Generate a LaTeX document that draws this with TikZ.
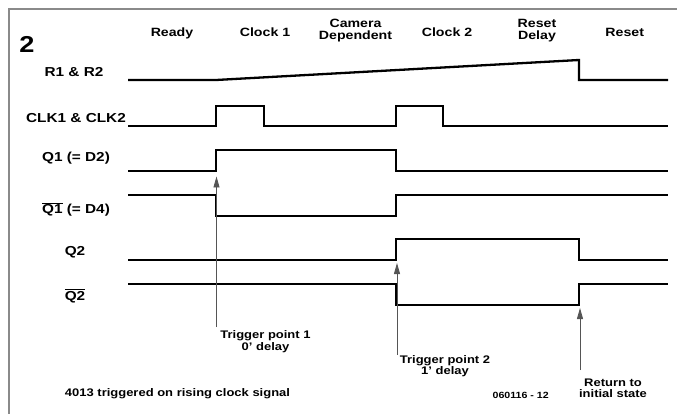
\documentclass[tikz,border=0pt]{standalone}
\usepackage{fontspec}
\setmainfont{Liberation Sans}[FakeStretch=1.18]
\usetikzlibrary{arrows.meta}
\definecolor{framegray}{HTML}{8A8A8A}
\definecolor{arrowgray}{HTML}{555555}
\newcommand{\ovl}[1]{\mbox{$\overline{\hbox{#1}}$}}
\tikzset{
  wave/.style={line width=2.3pt, line join=miter, black},
  colhead/.style={font=\bfseries\fontsize{12}{12.5}\selectfont, anchor=base, inner sep=0pt, align=center},
  rowlab/.style={font=\bfseries\fontsize{13}{14}\selectfont, anchor=base, inner sep=0pt},
  note/.style={font=\bfseries\fontsize{11}{11.2}\selectfont, anchor=base, inner sep=0pt, align=center},
  trig/.style={draw=arrowgray, line width=0.9pt, -{Triangle[length=11pt,width=6pt]}},
}
\begin{document}
\begin{tikzpicture}[x=1pt,y=-1pt]
\useasboundingbox (0,0) rectangle (677,414);
% frame (cropped)
\draw[framegray, line width=2pt] (9,414) -- (9,9) -- (677,9);

% figure number
\node[font=\bfseries\fontsize{23}{24}\selectfont, anchor=base, inner sep=0pt] (fig) at (27,52.2) {2};

% column headings (base = last line)
\node[colhead] (ready) at (172,36.3) {Ready};
\node[colhead] (clk1h) at (265,36.3) {Clock 1};
\node[colhead] (cam) at (355.5,39.8) {Camera\\Dependent};
\node[colhead] (clk2h) at (447,36.3) {Clock 2};
\node[colhead] (rdel) at (537,40) {Reset\\Delay};
\node[colhead] (reset) at (624.7,36.3) {Reset};

% row labels
\node[rowlab] (lr) at (74,76.1) {R1 \& R2};
\node[rowlab] (lclk) at (76,122.6) {CLK1 \& CLK2};
\node[rowlab] (lq1) at (76,161.3) {Q1 (= D2)};
\node[rowlab] (lq1b) at (76,213.3) {\ovl{Q1} (= D4)};
\node[rowlab] (lq2) at (75,255) {Q2};
\node[rowlab] (lq2b) at (75,300) {\ovl{Q2}};

% waveforms
\draw[wave] (128,80) -- (216,80) -- (579,60) -- (579,80) -- (668,80);
\draw[wave] (128,126) -- (216,126) -- (216,106) -- (264,106) -- (264,126)
  -- (396,126) -- (396,106) -- (443,106) -- (443,126) -- (668,126);
\draw[wave] (128,171) -- (216,171) -- (216,150) -- (396,150) -- (396,171) -- (668,171);
\draw[wave] (128,195) -- (216,195) -- (216,216) -- (396,216) -- (396,195) -- (668,195);
\draw[wave] (128,260) -- (396,260) -- (396,239) -- (579,239) -- (579,260) -- (668,260);
\draw[wave] (128,284) -- (396,284) -- (396,305) -- (579,305) -- (579,284) -- (668,284);

% trigger arrows
\coordinate (t1s) at (216.5,327);
\coordinate (t1e) at (216.5,176.5);
\coordinate (t2s) at (397,354.5);
\coordinate (t2e) at (397,263);
\coordinate (t3s) at (580,370);
\coordinate (t3e) at (580,308);
\draw[trig] (t1s) -- (t1e);
\draw[trig] (t2s) -- (t2e);
\draw[trig] (t3s) -- (t3e);

% notes (base = last line)
\node[note] (n1) at (265.5,350) {Trigger point 1\\0' delay};
\node[note] (n2) at (445,374.6) {Trigger point 2\\1' delay};
\node[note] (n3) at (613,397.9) {Return to\\initial state};
\node[note] (cap) at (177.5,396.7) {4013 triggered on rising clock signal};
\node[font=\bfseries\fontsize{9}{10}\selectfont, anchor=base, inner sep=0pt] (num) at (520.7,398.2) {060116 - 12};
\end{tikzpicture}
\end{document}
